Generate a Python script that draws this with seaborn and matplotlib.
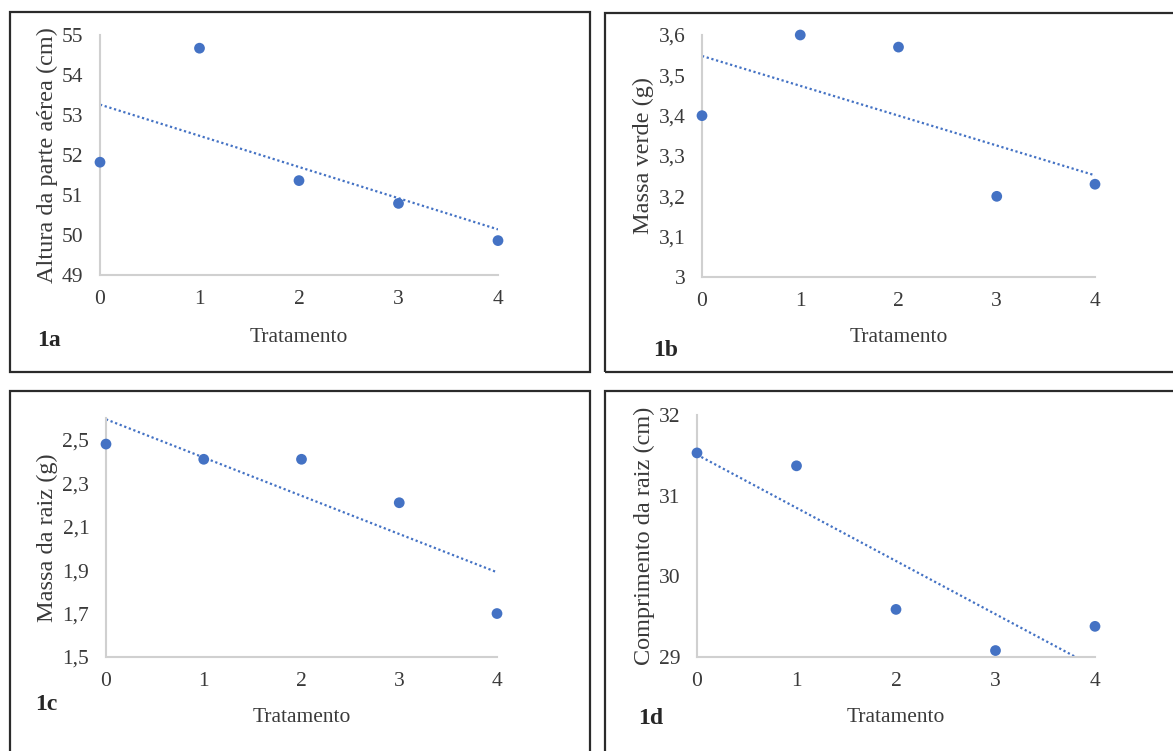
import numpy as np
import pandas as pd
import matplotlib
matplotlib.use('Agg')
import matplotlib.pyplot as plt
from matplotlib.patches import Rectangle
from matplotlib.ticker import FuncFormatter
import seaborn as sns

# dados
tratamento = [0, 1, 2, 3, 4]
altura_parte_aerea = [51.82, 54.67, 51.36, 50.79, 49.86]
massa_verde = [3.40, 3.60, 3.57, 3.20, 3.23]
massa_raiz = [2.48, 2.41, 2.41, 2.21, 1.70]
comprimento_raiz = [31.53, 31.37, 29.59, 29.08, 29.38]

ylabels = ['Altura da parte aérea (cm)', 'Massa verde (g)',
           'Massa da raiz (g)', 'Comprimento da raiz (cm)']
panel_names = ['1a', '1b', '1c', '1d']
yticks_a = [49, 50, 51, 52, 53, 54, 55]
yticks_b = [3.0, 3.1, 3.2, 3.3, 3.4, 3.5, 3.6]
yticks_c = [1.5, 1.7, 1.9, 2.1, 2.3, 2.5]
yticks_d = [29, 30, 31, 32]

W, H = 1173, 751
BLUE = '#4472C4'

sns.set_style("white")
plt.rcParams['font.family'] = ['Liberation Serif', 'DejaVu Serif']


def px_box(l, t, r, b):
    return [l / W, 1 - b / H, (r - l) / W, (b - t) / H]


def comma_fmt(v, pos):
    return ('%g' % round(v, 2)).replace('.', ',')


def draw_panel(fig, axbox, frame, yvals, ylim, yticks, ylabel, name, name_xy, xlabel_y):
    # moldura do painel
    l, t, r, b = frame
    fig.add_artist(Rectangle((l / W, 1 - b / H), (r - l) / W, (b - t) / H,
                             transform=fig.transFigure, fill=False,
                             ec='#2b2b2b', lw=1.6, clip_on=False))

    ax = fig.add_axes(px_box(*axbox))
    df = pd.DataFrame({'Tratamento': tratamento, 'y': yvals})
    sns.regplot(x='Tratamento', y='y', data=df, ci=None, ax=ax,
                scatter_kws={'color': BLUE, 's': 60, 'clip_on': False, 'zorder': 3,
                             'edgecolor': 'none', 'alpha': 1},
                line_kws={'color': BLUE, 'lw': 1.6, 'linestyle': (0, (1, 1.2))})
    ax.set_xlim(0, 4)
    ax.set_ylim(*ylim)
    ax.set_xticks(tratamento)
    ax.set_yticks(yticks)
    ax.yaxis.set_major_formatter(FuncFormatter(comma_fmt))
    ax.tick_params(length=0, labelsize=15.5, colors='#3a3a3a')
    ax.tick_params(axis='y', pad=12)
    ax.tick_params(axis='x', pad=11)
    for s in ['top', 'right']:
        ax.spines[s].set_visible(False)
    for s in ['left', 'bottom']:
        ax.spines[s].set_color('#d0d0d0')
        ax.spines[s].set_linewidth(1.5)
    ax.set_ylabel(ylabel, fontsize=17.5, color='#3a3a3a', labelpad=3)
    ax.set_xlabel('')
    cx = (axbox[0] + axbox[2]) / 2
    fig.text(cx / W, 1 - xlabel_y / H, 'Tratamento', fontsize=15.5, color='#3a3a3a',
             ha='center', va='center')
    fig.text(name_xy[0] / W, 1 - name_xy[1] / H, name, fontsize=17,
             fontweight='bold', ha='left', va='center')
    return ax


fig = plt.figure(figsize=(W / 100, H / 100), dpi=100)

draw_panel(fig, (100, 35, 498, 275), (10, 12, 590, 372), altura_parte_aerea,
           (49, 55), yticks_a, ylabels[0], panel_names[0], (37, 341), 337)
draw_panel(fig, (702, 35, 1095, 277), (605, 13, 1190, 372), massa_verde,
           (3, 3.6), yticks_b, ylabels[1], panel_names[1], (653, 350), 338)
draw_panel(fig, (106, 418, 497, 657), (10, 391, 590, 770), massa_raiz,
           (1.5, 2.6), yticks_c, ylabels[2], panel_names[2], (35, 705), 718)
draw_panel(fig, (697, 415, 1095, 657), (605, 391, 1190, 770), comprimento_raiz,
           (29, 32), yticks_d, ylabels[3], panel_names[3], (638, 718), 718)

plt.savefig('out.png', dpi=100)
